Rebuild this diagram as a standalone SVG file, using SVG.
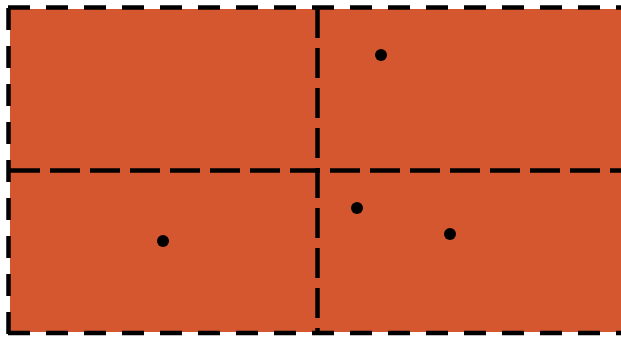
<svg xmlns="http://www.w3.org/2000/svg" width="621" height="337" viewBox="0 0 621 337">
<style>
.d{fill:none;stroke:#000;stroke-width:4.5;stroke-dasharray:22 16}
.i{fill:none;stroke:#000;stroke-width:4.5;stroke-dasharray:30 10}
.p{fill:#000}
</style>
<rect width="621" height="337" fill="#fff"/>
<rect id="field" x="10" y="9" width="611" height="323" fill="#D4572F"/>
<g id="grid">
<path class="d" d="M8,7.5 H621"/>
<path class="d" d="M8.5,8 V335"/>
<path class="d" d="M8,333 H621"/>
<path class="i" d="M317.5,8 V335"/>
<path class="i" d="M10,170.5 H621"/>
</g>
<g id="points">
<circle class="p" cx="381" cy="55" r="6"/>
<circle class="p" cx="163" cy="241" r="6"/>
<circle class="p" cx="357" cy="208" r="6"/>
<circle class="p" cx="450" cy="234" r="6"/>
</g>
</svg>
